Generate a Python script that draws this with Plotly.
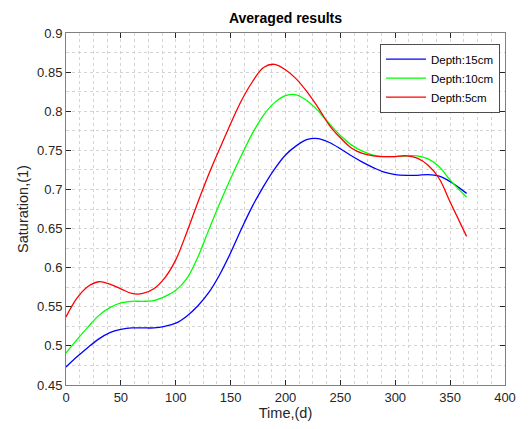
import plotly.graph_objects as go

time_d = [0, 10, 20, 30, 40, 50, 60, 70, 80, 90, 100, 110, 120, 130, 140, 150, 160, 170, 180,
          190, 200, 210, 220, 230, 240, 250, 260, 270, 280, 290, 300, 310, 320, 330, 340, 350, 365]

depth_15cm = [0.473, 0.486, 0.498, 0.509, 0.517, 0.521, 0.523, 0.523, 0.523, 0.525, 0.529, 0.538,
              0.551, 0.568, 0.591, 0.619, 0.650, 0.679, 0.704, 0.726, 0.744, 0.756, 0.764, 0.765,
              0.760, 0.752, 0.743, 0.735, 0.728, 0.722, 0.719, 0.718, 0.718, 0.719, 0.717, 0.710, 0.695]

depth_10cm = [0.491, 0.508, 0.524, 0.539, 0.549, 0.555, 0.557, 0.557, 0.558, 0.563, 0.571, 0.586,
              0.613, 0.648, 0.682, 0.714, 0.744, 0.772, 0.795, 0.811, 0.820, 0.821, 0.813, 0.800,
              0.784, 0.769, 0.757, 0.749, 0.744, 0.742, 0.742, 0.743, 0.743, 0.739, 0.729, 0.712, 0.690]

depth_5cm = [0.537, 0.561, 0.576, 0.582, 0.579, 0.573, 0.567, 0.567, 0.573, 0.587, 0.610, 0.645,
             0.683, 0.719, 0.752, 0.784, 0.814, 0.838, 0.856, 0.860, 0.853, 0.841, 0.824, 0.804,
             0.782, 0.766, 0.753, 0.746, 0.743, 0.742, 0.742, 0.743, 0.740, 0.731, 0.714, 0.684, 0.640]

series_names = ["Depth:15cm", "Depth:10cm", "Depth:5cm"]
series_colors = ["#0000ff", "#00ff00", "#ff0000"]

fig = go.Figure()
for name, vals, col in zip(series_names, [depth_15cm, depth_10cm, depth_5cm], series_colors):
    fig.add_trace(go.Scatter(x=time_d, y=vals, mode="lines", name=name,
                             line=dict(color=col, width=1.3, shape="spline", smoothing=1.0)))

grid_col = "#d4d4d4"
font_fam = "Liberation Sans, Arial, sans-serif"
tick_font = dict(family=font_fam, size=13, color="#262626")
axis_common = dict(showline=True, linecolor="#808080", linewidth=1, mirror="ticks",
                   ticks="inside", ticklen=5, tickcolor="#262626", tickwidth=1,
                   showgrid=True, gridcolor=grid_col, griddash="dot", gridwidth=1,
                   zeroline=False, tickfont=tick_font, automargin=False)

fig.update_xaxes(range=[0, 400], dtick=50, tick0=0,
                 minor=dict(dtick=12.5, showgrid=True, gridcolor=grid_col, griddash="dot", ticklen=0),
                 title=dict(text="Time,(d)", standoff=3,
                            font=dict(family=font_fam, size=14.5, color="#262626")),
                 **axis_common)
fig.update_yaxes(range=[0.45, 0.9], dtick=0.05, tick0=0.45,
                 minor=dict(dtick=0.025, showgrid=True, gridcolor=grid_col, griddash="dot", ticklen=0),
                 title=dict(text="Saturation,(1)", standoff=5,
                            font=dict(family=font_fam, size=14.5, color="#262626")),
                 **axis_common)

fig.update_layout(
    width=531, height=429,
    margin=dict(l=66, r=26, t=33, b=44, autoexpand=False),
    paper_bgcolor="white", plot_bgcolor="white",
    title=dict(text="<b>Averaged results</b>", x=0.5, xref="paper", xanchor="center",
               y=1 - 18 / 429, yref="container", yanchor="middle", automargin=False,
               font=dict(family=font_fam, size=14, color="#000000")),
    legend=dict(x=0.9886, y=0.970, xanchor="right", yanchor="top",
                bgcolor="white", bordercolor="#4d4d4d", borderwidth=1,
                font=dict(family=font_fam, size=11.5, color="#000000"),
                tracegroupgap=0, itemwidth=40),
    showlegend=True,
)

fig.write_html("out.html", config={"displayModeBar": False},
               post_script="document.body.style.margin='0';")
